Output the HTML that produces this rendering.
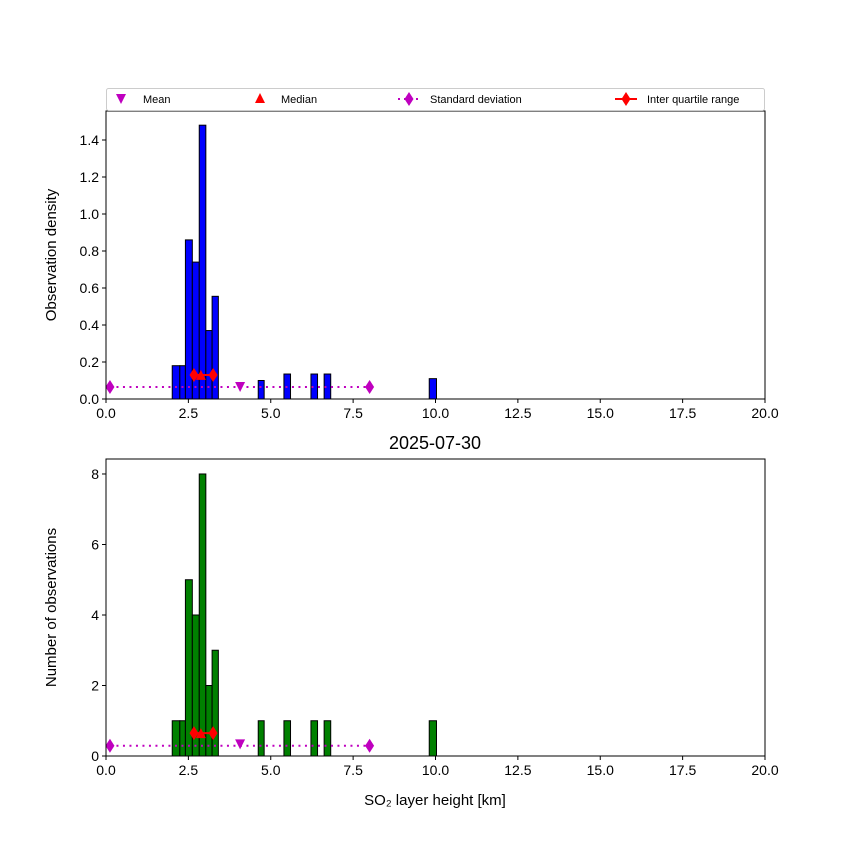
<!DOCTYPE html>
<html><head><meta charset="utf-8">
<style>
body{margin:0;background:#fff;}
svg text{font-family:"Liberation Sans","DejaVu Sans",sans-serif;}
</style></head>
<body>
<svg id="chart" width="850" height="850" xmlns="http://www.w3.org/2000/svg"></svg>
<script>
const binStarts=[2.01,2.24,2.41,2.62,2.83,3.03,3.22,4.62,5.40,6.22,6.62,9.81];
const binEnds=[2.24,2.41,2.62,2.83,3.03,3.22,3.41,4.80,5.60,6.42,6.82,10.03];
const counts=[1,1,5,4,8,2,3,1,1,1,1,1];
const densities=[0.18,0.18,0.86,0.74,1.48,0.37,0.555,0.10,0.135,0.135,0.135,0.11];
const meanVal=4.07, medianVal=2.88, stdLow=0.12, stdHigh=8.0, iqrLow=2.67, iqrHigh=3.25;
const topMarkerY={mean:0.065,median:0.125,std:0.065,iqr:0.13};
const botMarkerY={mean:0.33,median:0.62,std:0.29,iqr:0.65};
const xTicks=[0,2.5,5,7.5,10,12.5,15,17.5,20];
const topYTicks=[0,0.2,0.4,0.6,0.8,1.0,1.2,1.4];
const botYTicks=[0,2,4,6,8];

const svg=document.getElementById('chart');
const NS='http://www.w3.org/2000/svg';
function mk(tag,attrs,parent){const e=document.createElementNS(NS,tag);for(const k in attrs)e.setAttribute(k,attrs[k]);(parent||svg).appendChild(e);return e;}
const X0=106,X1=765;
const xs=v=>X0+(v/20)*(X1-X0);

function panel(top,bottom,ymax,vals,color,yTicks,fmt,ylabel,mk_y,name){
  const ys=v=>bottom-(v/ymax)*(bottom-top);
  const g=mk('g',{});
  
  
  for(let i=0;i<vals.length;i++){
    const r=mk('rect',{x:xs(binStarts[i]),y:ys(vals[i]),width:xs(binEnds[i])-xs(binStarts[i]),height:bottom-ys(vals[i]),fill:color,stroke:'#000','stroke-width':1},g);
    
    
  }
  const sy=ys(mk_y.std);
  const sl=mk('line',{x1:xs(stdLow),x2:xs(stdHigh),y1:sy,y2:sy,stroke:'#bf00bf','stroke-width':2,'stroke-dasharray':'2,4.5'},g);
  
  
  [stdLow,stdHigh].forEach(v=>{const d=mk('polygon',{points:`${xs(v)},${sy-7} ${xs(v)+4.5},${sy} ${xs(v)},${sy+7} ${xs(v)-4.5},${sy}`,fill:'#bf00bf'},g);
    });
  const iy=ys(mk_y.iqr);
  const il=mk('line',{x1:xs(iqrLow),x2:xs(iqrHigh),y1:iy,y2:iy,stroke:'#f00','stroke-width':2},g);
  
  
  [iqrLow,iqrHigh].forEach(v=>{const d=mk('polygon',{points:`${xs(v)},${iy-7} ${xs(v)+4.5},${iy} ${xs(v)},${iy+7} ${xs(v)-4.5},${iy}`,fill:'#f00'},g);
    });
  const my=ys(mk_y.median), mx=xs(medianVal);
  const md=mk('polygon',{points:`${mx},${my-6} ${mx+5},${my+4} ${mx-5},${my+4}`,fill:'#f00'},g);
  
  
  const ey=ys(mk_y.mean), ex=xs(meanVal);
  const mn=mk('polygon',{points:`${ex-5},${ey-5} ${ex+5},${ey-5} ${ex},${ey+5}`,fill:'#bf00bf'},g);
  
  
  const fr=mk('rect',{x:X0,y:top,width:X1-X0,height:bottom-top,fill:'none',stroke:'#000','stroke-width':1},g);
  
  
  xTicks.forEach(t=>{mk('line',{x1:xs(t),x2:xs(t),y1:bottom,y2:bottom+4,stroke:'#000'},g);
    const tx=mk('text',{x:xs(t),y:bottom+19,'text-anchor':'middle','font-size':14},g);tx.textContent=t.toFixed(1);
    });
  yTicks.forEach(t=>{mk('line',{x1:X0-4,x2:X0,y1:ys(t),y2:ys(t),stroke:'#000'},g);
    const tx=mk('text',{x:X0-7,y:ys(t)+5,'text-anchor':'end','font-size':14},g);tx.textContent=fmt(t);
    });
  const yl=mk('text',{x:0,y:0,'text-anchor':'middle','font-size':15,transform:`translate(56,${(top+bottom)/2}) rotate(-90)`},g);
  yl.textContent=ylabel;
  
  
}
panel(111,399,1.5567,densities,'#0000ff',topYTicks,t=>t.toFixed(1),'Observation density',topMarkerY,'density-panel');
panel(459,756,8.425,counts,'#008000',botYTicks,t=>String(t),'Number of observations',botMarkerY,'count-panel');

const title=mk('text',{x:435,y:449,'text-anchor':'middle','font-size':18});
title.textContent='2025-07-30';


const xl=mk('text',{x:435,y:805,'text-anchor':'middle','font-size':15});
xl.textContent='SO₂ layer height [km]';



const lg=mk('g',{});


mk('rect',{x:106.5,y:88.5,width:658,height:22,rx:2,fill:'#fff',stroke:'#ccc'},lg);
const ly=99;
mk('polygon',{points:`116,${ly-5} 126,${ly-5} 121,${ly+5}`,fill:'#bf00bf'},lg);
mk('polygon',{points:`260,${ly-6} 265,${ly+4} 255,${ly+4}`,fill:'#f00'},lg);
mk('line',{x1:398,x2:420,y1:ly,y2:ly,stroke:'#bf00bf','stroke-width':2,'stroke-dasharray':'2,4'},lg);
mk('polygon',{points:`409,${ly-7} 413.5,${ly} 409,${ly+7} 404.5,${ly}`,fill:'#bf00bf'},lg);
mk('line',{x1:615,x2:637,y1:ly,y2:ly,stroke:'#f00','stroke-width':2},lg);
mk('polygon',{points:`626,${ly-7} 630.5,${ly} 626,${ly+7} 621.5,${ly}`,fill:'#f00'},lg);
[['Mean',143],['Median',281],['Standard deviation',430],['Inter quartile range',647]].forEach(([s,x])=>{
  const t=mk('text',{x:x,y:ly+4,'font-size':11},lg);t.textContent=s;
  });
</script>
</body></html>
